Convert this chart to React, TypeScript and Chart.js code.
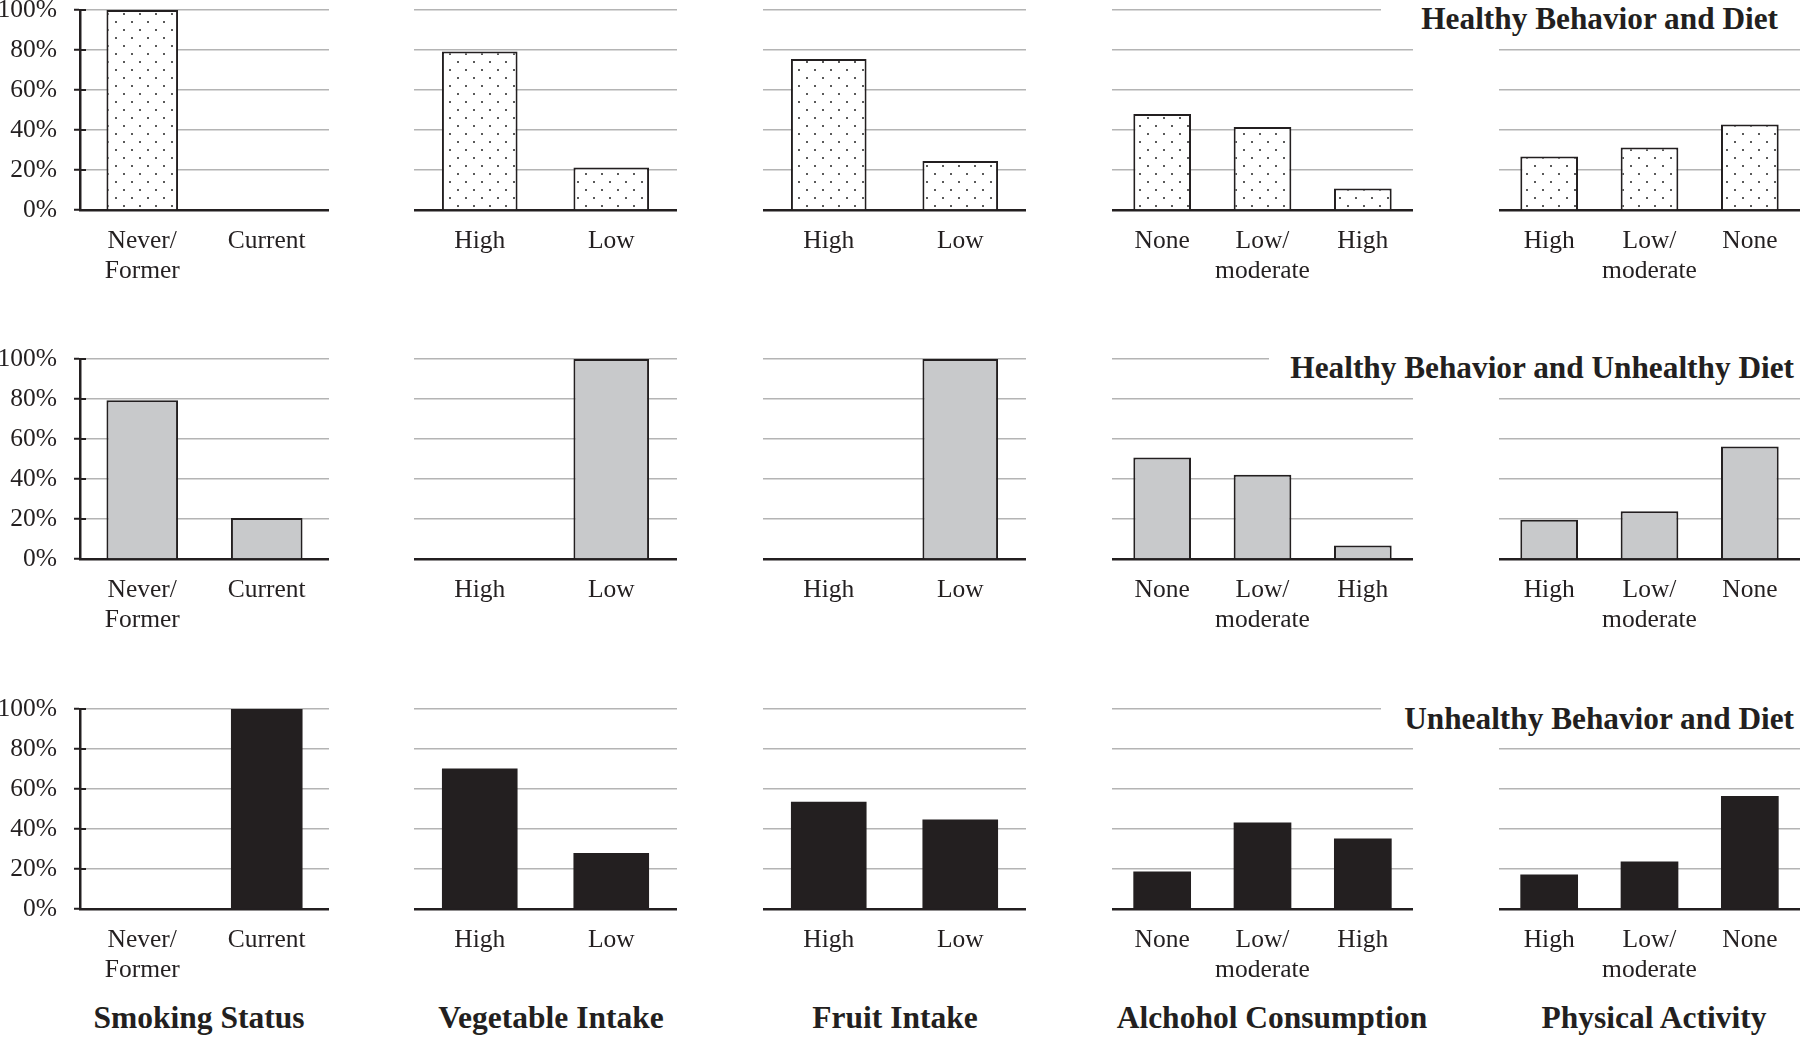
import React, { useEffect, useRef } from 'react';
import { Chart, registerables } from 'chart.js';

Chart.register(...registerables);

// ---------- data ----------
const smokingLabels: (string | string[])[] = [['Never/', 'Former'], 'Current'];
const vegetableLabels: (string | string[])[] = ['High', 'Low'];
const fruitLabels: (string | string[])[] = ['High', 'Low'];
const alcoholLabels: (string | string[])[] = ['None', ['Low/', 'moderate'], 'High'];
const activityLabels: (string | string[])[] = ['High', ['Low/', 'moderate'], 'None'];

const yTickValues = [0, 20, 40, 60, 80, 100];

const columnTitles = ['Smoking Status', 'Vegetable Intake', 'Fruit Intake', 'Alchohol Consumption', 'Physical Activity'];
const rowTitles = ['Healthy Behavior and Diet', 'Healthy Behavior and Unhealthy Diet', 'Unhealthy Behavior and Diet'];

// Healthy Behavior and Diet
const healthySmoking = [100, 0];
const healthyVegetable = [79.2, 21.3];
const healthyFruit = [75.5, 24.5];
const healthyAlcohol = [48, 41.5, 10.8];
const healthyActivity = [26.7, 31.2, 42.8];

// Healthy Behavior and Unhealthy Diet
const mixedSmoking = [79.4, 20.5];
const mixedVegetable = [0, 100];
const mixedFruit = [0, 100];
const mixedAlcohol = [50.7, 42.1, 6.8];
const mixedActivity = [19.6, 23.9, 56.2];

// Unhealthy Behavior and Diet
const unhealthySmoking = [0, 100];
const unhealthyVegetable = [70.3, 28];
const unhealthyFruit = [53.6, 44.8];
const unhealthyAlcohol = [18.7, 43.3, 35.3];
const unhealthyActivity = [17.3, 23.7, 56.5];

// ---------- layout / style ----------
const FONT = "'Liberation Serif', 'Times New Roman', serif";
const INK = '#231f20';
const GRID = '#b4b4b4';
const GRAY_FILL = '#c8c9cb';
const AXIS_W = 80;
const PAD_TOP = 40;
const PLOT_H = 200;
const X_AXIS_H = 90;

const colLayout = [
  { left: 80, width: 249, titleCenter: 199 },
  { left: 414, width: 263, titleCenter: 551 },
  { left: 763, width: 263, titleCenter: 895 },
  { left: 1112, width: 301, titleCenter: 1272 },
  { left: 1499, width: 301, titleCenter: 1654 },
];
const rowTops = [10, 359, 709];
const rowTitleLayout = [
  { boxLeft: 1381, right: 1778, capCenter: 19.5 },
  { boxLeft: 1269, right: 1794, capCenter: 368 },
  { boxLeft: 1381, right: 1794, capCenter: 719 },
];
const columnTitleCapCenter = 1018;

type Kind = 'dots' | 'gray' | 'black';

function makeDots(ctx: CanvasRenderingContext2D) {
  const c = document.createElement('canvas');
  c.width = 16;
  c.height = 16;
  const g = c.getContext('2d')!;
  g.fillStyle = '#ffffff';
  g.fillRect(0, 0, 16, 16);
  g.fillStyle = '#5a5a5a';
  g.fillRect(3, 3, 2, 2);
  g.fillRect(11, 11, 2, 2);
  return ctx.createPattern(c, 'repeat');
}

const innerTicks = {
  id: 'innerTicks',
  afterDraw(chart: any) {
    const s = chart.scales.y;
    if (!s || !s.options.ticks.display) return;
    const ctx = chart.ctx;
    ctx.save();
    ctx.strokeStyle = INK;
    ctx.lineWidth = 2;
    s.ticks.forEach((t: any) => {
      const y = Math.round(s.getPixelForValue(t.value));
      ctx.beginPath();
      ctx.moveTo(chart.chartArea.left, y);
      ctx.lineTo(chart.chartArea.left + 6, y);
      ctx.stroke();
    });
    ctx.restore();
  },
};

type PanelProps = {
  left: number;
  top: number;
  width: number;
  labels: (string | string[])[];
  values: number[];
  kind: Kind;
  yAxis: boolean;
};

function Panel(p: PanelProps) {
  const ref = useRef<HTMLCanvasElement>(null);
  const yw = p.yAxis ? AXIS_W : 0;
  const cw = p.width + yw;
  const ch = PAD_TOP + PLOT_H + X_AXIS_H;

  useEffect(() => {
    const ctx = ref.current!.getContext('2d')!;
    const bg = p.kind === 'dots' ? makeDots(ctx) : p.kind === 'gray' ? GRAY_FILL : INK;
    const chart = new Chart(ctx, {
      type: 'bar',
      data: {
        labels: p.labels as any,
        datasets: [
          {
            data: p.values,
            backgroundColor: bg as any,
            borderColor: INK,
            borderWidth: p.kind === 'black' ? 0 : 2,
            categoryPercentage: 1,
            barPercentage: 0.575,
          },
        ],
      },
      options: {
        animation: false,
        responsive: false,
        devicePixelRatio: 1,
        layout: { padding: { top: PAD_TOP, left: 0, right: 0, bottom: 0 } },
        plugins: { legend: { display: false }, tooltip: { enabled: false }, title: { display: false } },
        scales: {
          x: {
            grid: { display: false, drawTicks: false },
            border: { display: true, color: INK, width: 2.5 },
            ticks: {
              font: { family: FONT, size: 25.5, lineHeight: 1.18 },
              color: INK,
              padding: 16,
              maxRotation: 0,
              autoSkip: false,
            },
            afterFit: (s: any) => {
              s.height = X_AXIS_H;
            },
          },
          y: {
            min: 0,
            max: 100,
            afterBuildTicks: (s: any) => {
              s.ticks = yTickValues.map((v) => ({ value: v }));
            },
            ticks: {
              display: p.yAxis,
              callback: (v: any) => `${v}%`,
              font: { family: FONT, size: 25.5, lineHeight: 1.2 },
              color: INK,
              padding: 17,
            },
            grid: {
              color: GRID,
              lineWidth: 1.5,
              drawTicks: p.yAxis,
              tickLength: 6,
              tickColor: INK,
              tickWidth: 2,
            },
            border: { display: p.yAxis, color: INK, width: 2.5 },
            afterFit: (s: any) => {
              s.width = yw;
            },
          },
        },
      },
      plugins: [innerTicks],
    } as any);
    return () => chart.destroy();
  }, []);

  return (
    <canvas
      ref={ref}
      width={cw}
      height={ch}
      style={{ position: 'absolute', left: p.left - yw, top: p.top - PAD_TOP, width: cw, height: ch }}
    />
  );
}

const rowData: { kind: Kind; values: number[][] }[] = [
  { kind: 'dots', values: [healthySmoking, healthyVegetable, healthyFruit, healthyAlcohol, healthyActivity] },
  { kind: 'gray', values: [mixedSmoking, mixedVegetable, mixedFruit, mixedAlcohol, mixedActivity] },
  { kind: 'black', values: [unhealthySmoking, unhealthyVegetable, unhealthyFruit, unhealthyAlcohol, unhealthyActivity] },
];
const colLabels = [smokingLabels, vegetableLabels, fruitLabels, alcoholLabels, activityLabels];

export default function App() {
  return (
    <div style={{ position: 'absolute', left: 0, top: 0, width: 1800, height: 1038, overflow: 'hidden', background: '#fff' }}>
      {rowData.map((row, r) =>
        colLayout.map((c, ci) => (
          <Panel
            key={`${r}-${ci}`}
            left={c.left}
            top={rowTops[r]}
            width={c.width}
            labels={colLabels[ci]}
            values={row.values[ci]}
            kind={row.kind}
            yAxis={ci === 0}
          />
        ))
      )}
      {rowTitles.map((t, i) => {
        const L = rowTitleLayout[i];
        return (
          <div
            key={t}
            style={{
              position: 'absolute',
              left: L.boxLeft,
              width: 1800 - L.boxLeft,
              top: L.capCenter - 18.2,
              height: 36,
              lineHeight: '36px',
              fontSize: 31.3,
              fontWeight: 'bold',
              fontFamily: FONT,
              color: INK,
              textAlign: 'right',
              paddingRight: 1800 - L.right,
              boxSizing: 'border-box',
              background: '#fff',
              whiteSpace: 'nowrap',
              zIndex: 2,
            }}
          >
            {t}
          </div>
        );
      })}
      {columnTitles.map((t, i) => (
        <div
          key={t}
          style={{
            position: 'absolute',
            left: colLayout[i].titleCenter - 200,
            width: 400,
            top: columnTitleCapCenter - 19.2,
            height: 38,
            lineHeight: '38px',
            fontSize: 31.5,
            fontWeight: 'bold',
            fontFamily: FONT,
            color: INK,
            textAlign: 'center',
            whiteSpace: 'nowrap',
          }}
        >
          {t}
        </div>
      ))}
    </div>
  );
}
